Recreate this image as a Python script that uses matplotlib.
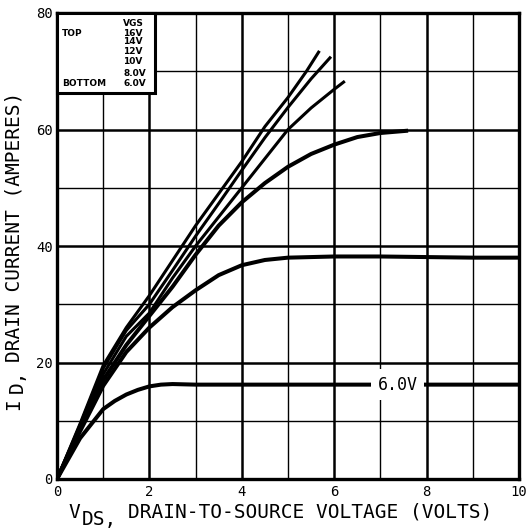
import matplotlib
matplotlib.use('Agg')
import matplotlib.pyplot as plt
from matplotlib.patches import Rectangle

# Output characteristics (VDS in volts, ID in amperes)
vds_16 = [0, 0.5, 1, 1.5, 2, 2.5, 3, 3.5, 4, 4.5, 5, 5.4, 5.68]
id_16 = [0, 9.5, 19.5, 26, 31.5, 37.5, 43.5, 49, 54.5, 60.5, 65.5, 70, 73.5]

vds_14 = [0, 0.5, 1, 1.5, 2, 2.5, 3, 3.5, 4, 4.5, 5, 5.5, 5.93]
id_14 = [0, 9.3, 19, 25.5, 30, 35.8, 41.7, 47.3, 53, 58.6, 63.8, 68.7, 72.5]

vds_12 = [0, 0.5, 1, 1.5, 2, 2.5, 3, 3.5, 4, 4.5, 5, 5.5, 6, 6.23]
id_12 = [0, 9, 18, 24.5, 28.5, 34.5, 40, 45, 50, 55, 60, 63.7, 66.9, 68.3]

vds_10 = [0, 0.5, 1, 1.5, 2, 2.5, 3, 3.5, 4, 4.5, 5, 5.5, 6, 6.5, 7, 7.6]
id_10 = [0, 8.7, 17, 23, 28, 33, 38.5, 43.5, 47.5, 50.8, 53.6, 55.8, 57.4, 58.7, 59.4, 59.8]

vds_8 = [0, 0.5, 1, 1.5, 2, 2.5, 3, 3.5, 4, 4.5, 5, 6, 7, 8, 9, 10]
id_8 = [0, 8.2, 16, 21.8, 26, 29.5, 32.4, 35, 36.7, 37.6, 38, 38.2, 38.2, 38.1, 38, 38]

vds_6 = [0, 0.5, 0.8, 1, 1.25, 1.5, 1.75, 2, 2.25, 2.5, 3, 10]
id_6 = [0, 7, 10, 12, 13.4, 14.5, 15.3, 15.9, 16.2, 16.3, 16.2, 16.2]

vgs_labels = ['16V', '14V', '12V', '10V', '8.0V', '6.0V']
x_ticks = [0, 2, 4, 6, 8, 10]
y_ticks = [0, 20, 40, 60, 80]

W, H = 526, 528
fig = plt.figure(figsize=(W / 100, H / 100), dpi=100)
ax = fig.add_axes([57 / W, 49 / H, 462 / W, 466 / H])

mono = 'DejaVu Sans Mono'

# curves: upper three thinner, lower three heavier
ax.plot(vds_16, id_16, color='black', lw=2.2, solid_capstyle='butt', zorder=3)
ax.plot(vds_14, id_14, color='black', lw=2.2, solid_capstyle='butt', zorder=3)
ax.plot(vds_12, id_12, color='black', lw=2.2, solid_capstyle='butt', zorder=3)
ax.plot(vds_10, id_10, color='black', lw=2.9, solid_capstyle='butt', zorder=3)
ax.plot(vds_8, id_8, color='black', lw=2.9, solid_capstyle='butt', zorder=3)
ax.plot(vds_6, id_6, color='black', lw=2.9, solid_capstyle='butt', zorder=3)

# inline label on the 6.0V curve
ax.text(7.37, id_6[-1], vgs_labels[-1], family=mono, fontsize=12,
        ha='center', va='center', zorder=4,
        bbox=dict(boxstyle='square,pad=0.4', fc='white', ec='none'))

ax.set_xlim(0, 10)
ax.set_ylim(0, 80)
ax.set_xticks(x_ticks)
ax.set_yticks(y_ticks)
ax.set_xticks([1, 3, 5, 7, 9], minor=True)
ax.set_yticks([10, 30, 50, 70], minor=True)
ax.set_xticklabels([str(v) for v in x_ticks], family=mono, fontsize=10)
ax.set_yticklabels([str(v) for v in y_ticks], family=mono, fontsize=10)
ax.tick_params(which='both', length=0)
ax.tick_params(axis='x', pad=4)
ax.tick_params(axis='y', pad=3)
ax.grid(which='major', color='black', lw=1.8, zorder=1)
ax.grid(which='minor', color='black', lw=1.0, zorder=1)
ax.set_axisbelow(True)
for s in ax.spines.values():
    s.set_linewidth(2.4)

# legend box in the upper left corner
ax.add_patch(Rectangle((0, (479 - 93) / 466), (155 - 57) / 462, 1 - (479 - 93) / 466,
                       transform=ax.transAxes, fc='white', ec='black', lw=2.2,
                       zorder=5, clip_on=False))
row_y = [23, 33, 42, 52, 62, 73, 83]
lfont = dict(family='DejaVu Sans', weight='bold', fontsize=6.5, va='center',
             transform=ax.transAxes, zorder=6)
ax.text((123 - 57) / 462, (479 - row_y[0]) / 466, 'VGS', **lfont)
for i, lab in enumerate(vgs_labels):
    ax.text((123 - 57) / 462, (479 - row_y[i + 1]) / 466, lab, **lfont)
ax.text((62 - 57) / 462, (479 - row_y[1]) / 466, 'TOP', **lfont)
ax.text((62 - 57) / 462, (479 - row_y[6]) / 466, 'BOTTOM', **lfont)

# axis titles, built from pieces so the subscripts keep full size
big = 14
fig.text(74 / W, 1 - 512 / H, 'V', family=mono, fontsize=big, ha='center', va='center')
fig.text(82 / W, 1 - 519 / H, 'DS,', family=mono, fontsize=big, ha='left', va='center')
fig.text(128 / W, 1 - 512 / H, 'DRAIN-TO-SOURCE VOLTAGE (VOLTS)', family=mono,
         fontsize=big, ha='left', va='center')

fig.text(14 / W, 1 - 404 / H, 'I', family=mono, fontsize=big, rotation=90,
         ha='center', va='center')
fig.text(17 / W, 1 - 381 / H, 'D,', family=mono, fontsize=big, rotation=90,
         ha='center', va='center')
fig.text(14 / W, 1 - 362 / H, 'DRAIN CURRENT (AMPERES)', family=mono, fontsize=big,
         rotation=90, ha='center', va='bottom')

fig.savefig('out.png', dpi=100, facecolor='white')
